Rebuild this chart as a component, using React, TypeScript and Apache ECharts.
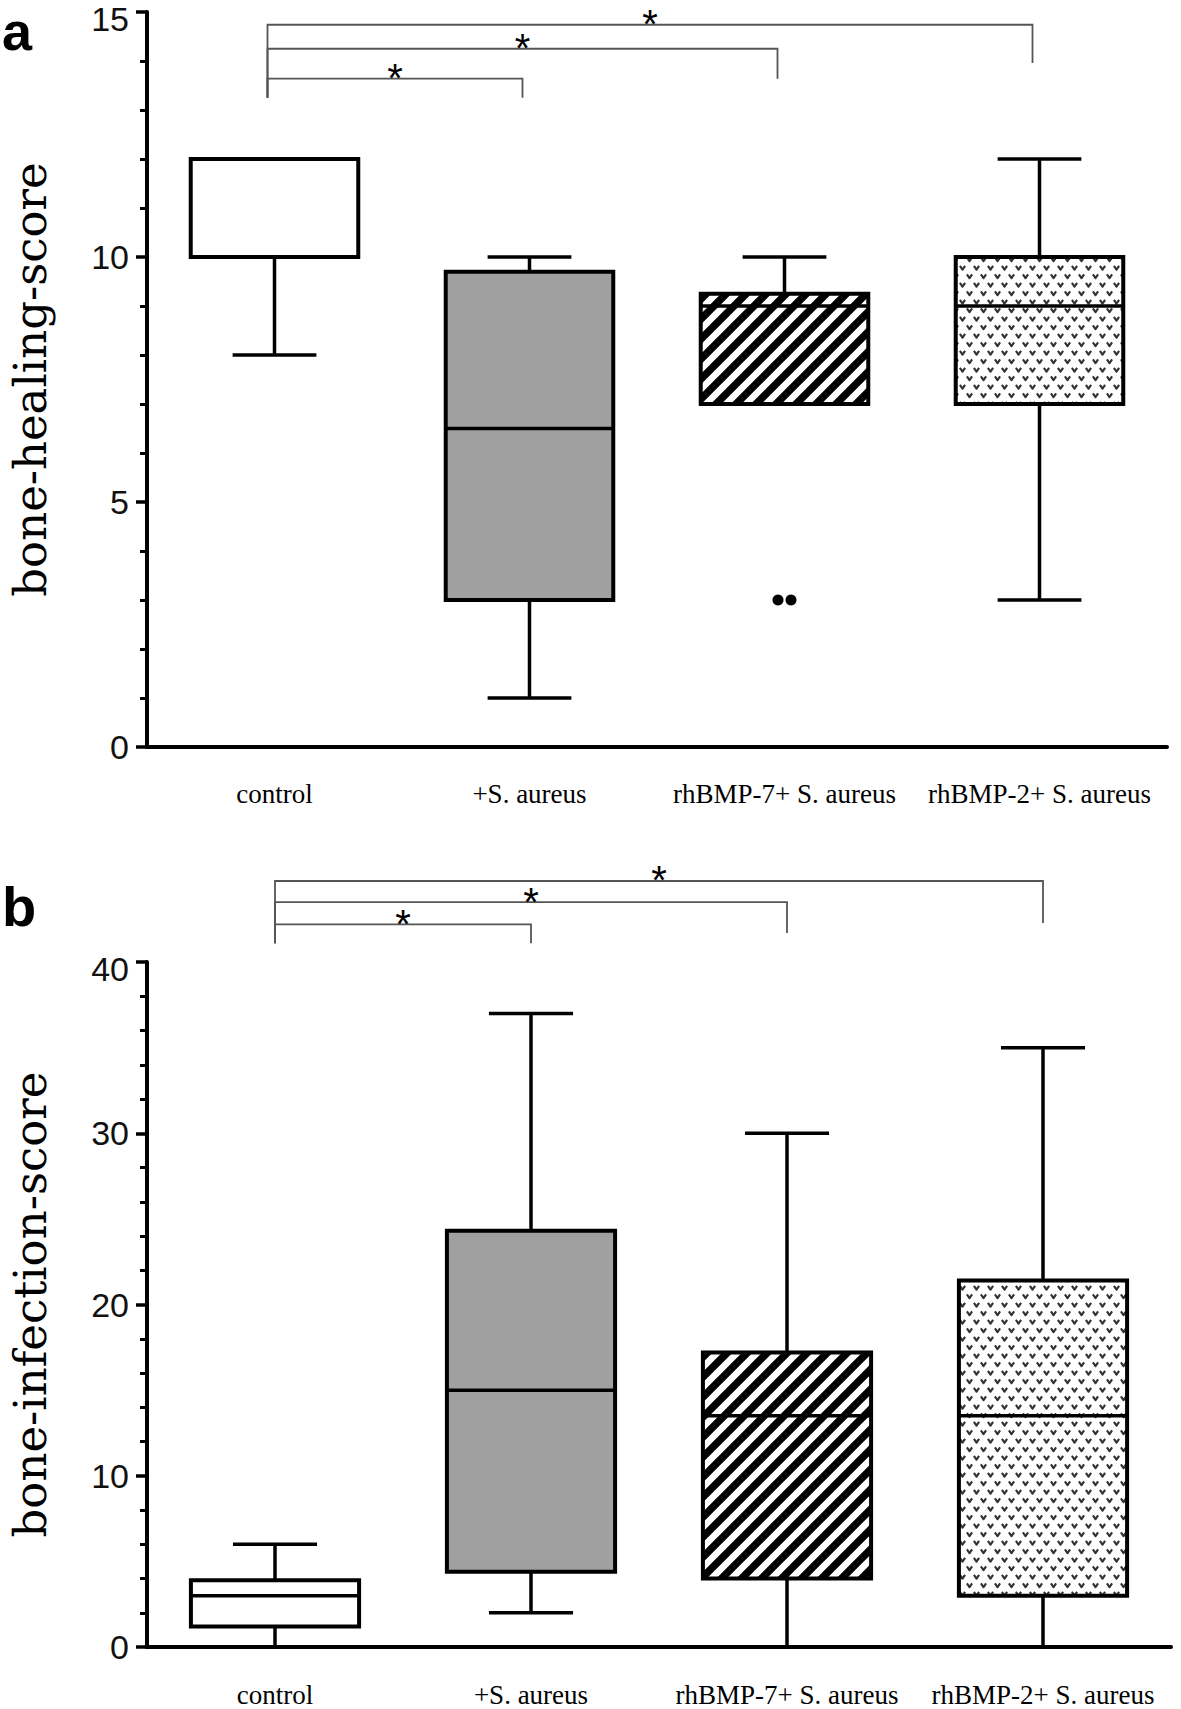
import React, { useEffect, useRef } from 'react';
import * as echarts from 'echarts';

// ---------- data ----------
const categories = ['control', '+S. aureus', 'rhBMP-7+ S. aureus', 'rhBMP-2+ S. aureus'];

// panel a: bone-healing-score (min, Q1, median, Q3, max)
const healingMin = [8, 1, 7, 3];
const healingQ1 = [10, 3, 7, 7];
const healingMedian = [10, 6.5, 9, 9];
const healingQ3 = [12, 9.7, 9.25, 10];
const healingMax = [12, 10, 10, 12];
const healingOutliers = [[2, 3], [2, 3]];

// panel b: bone-infection-score
const infectionMin = [0, 2, 0, 0];
const infectionQ1 = [1.2, 4.4, 4.0, 3.0];
const infectionMedian = [3, 15, 13.5, 13.5];
const infectionQ3 = [3.9, 24.3, 17.2, 21.4];
const infectionMax = [6, 37, 30, 35];

// significance brackets: [fromIndex, toIndex, barLevel, leftFootLevel, rightFootLevel]
const healingBrackets = [
  [0, 1, 13.64, 13.25, 13.25],
  [0, 2, 14.25, 13.25, 13.64],
  [0, 3, 14.74, 13.25, 13.96],
];
const infectionBrackets = [
  [0, 1, 42.2, 41.1, 41.1],
  [0, 2, 43.5, 41.1, 41.7],
  [0, 3, 44.73, 41.1, 42.28],
];
const bracketMark = '*';

const healingAxis = { min: 0, max: 15, interval: 5, name: 'bone-healing-score' };
const infectionAxis = { min: 0, max: 40, interval: 10, name: 'bone-infection-score' };

// ---------- helpers ----------
function makeHatch() {
  const s = 20;
  const c = document.createElement('canvas');
  c.width = s;
  c.height = s;
  const g = c.getContext('2d')!;
  g.fillStyle = '#fff';
  g.fillRect(0, 0, s, s);
  g.strokeStyle = '#000';
  g.lineWidth = 7.5;
  g.beginPath();
  g.moveTo(-s, s); g.lineTo(s, -s);
  g.moveTo(-s / 2, s * 1.5); g.lineTo(s * 1.5, -s / 2);
  g.moveTo(0, s * 2); g.lineTo(s * 2, 0);
  g.stroke();
  return { image: c, repeat: 'repeat', imageWidth: s, imageHeight: s };
}

function makeVee() {
  const w = 14, h = 17;
  const c = document.createElement('canvas');
  c.width = w;
  c.height = h;
  const g = c.getContext('2d')!;
  g.fillStyle = '#fff';
  g.fillRect(0, 0, w, h);
  g.strokeStyle = '#333';
  g.lineWidth = 2.2;
  g.lineJoin = 'round';
  const v = (cx: number, cy: number) => {
    g.beginPath();
    g.moveTo(cx - 2.6, cy - 1.8);
    g.lineTo(cx, cy + 1.8);
    g.lineTo(cx + 2.6, cy - 1.8);
    g.stroke();
  };
  v(3.5, 4.25);
  v(10.5, 12.75);
  return { image: c, repeat: 'repeat', imageWidth: w, imageHeight: h };
}

function boxRows(mn: number[], q1: number[], md: number[], q3: number[], mx: number[]) {
  return categories.map((_, i) => [i, mn[i], q1[i], md[i], q3[i], mx[i]]);
}

export default function App() {
  const ref = useRef<HTMLDivElement>(null);

  useEffect(() => {
    document.body.style.margin = '0';
    if (!ref.current) return;
    const chart = echarts.init(ref.current, undefined, { renderer: 'svg' });

    const fills: any[] = ['#ffffff', '#a0a0a0', makeHatch(), makeVee()];
    const BOX_RATIO = 0.657;

    const renderBox = (params: any, api: any) => {
      const idx = api.value(0);
      const x = api.coord([idx, 0])[0];
      const yMin = api.coord([idx, api.value(1)])[1];
      const yQ1 = api.coord([idx, api.value(2)])[1];
      const yMd = api.coord([idx, api.value(3)])[1];
      const yQ3 = api.coord([idx, api.value(4)])[1];
      const yMax = api.coord([idx, api.value(5)])[1];
      const bw = api.size([1, 0])[0] * BOX_RATIO;
      const cap = bw / 4;
      const ls = { stroke: '#000', lineWidth: 3.5 };
      return {
        type: 'group',
        children: [
          { type: 'line', shape: { x1: x, y1: yMax, x2: x, y2: yQ3 }, style: ls },
          { type: 'line', shape: { x1: x, y1: yQ1, x2: x, y2: yMin }, style: ls },
          { type: 'line', shape: { x1: x - cap, y1: yMax, x2: x + cap, y2: yMax }, style: ls },
          { type: 'line', shape: { x1: x - cap, y1: yMin, x2: x + cap, y2: yMin }, style: ls },
          {
            type: 'rect',
            shape: { x: x - bw / 2, y: yQ3, width: bw, height: yQ1 - yQ3 },
            style: { fill: fills[idx], stroke: '#000', lineWidth: 4 },
          },
          { type: 'line', shape: { x1: x - bw / 2, y1: yMd, x2: x + bw / 2, y2: yMd }, style: { stroke: '#000', lineWidth: 3.5 } },
        ],
      };
    };

    const makeBracketRenderer = (dx: number) => (params: any, api: any) => {
      const a = api.coord([api.value(0), api.value(2)]);
      const b = api.coord([api.value(1), api.value(2)]);
      const yl = api.coord([api.value(0), api.value(3)])[1];
      const yr = api.coord([api.value(1), api.value(4)])[1];
      const xa = a[0] + dx;
      const xb = b[0] + dx;
      return {
        type: 'group',
        children: [
          {
            type: 'polyline',
            shape: { points: [[xa, yl], [xa, a[1]], [xb, b[1]], [xb, yr]] },
            style: { stroke: '#555', lineWidth: 1.8, fill: 'none' },
          },
          {
            type: 'text',
            x: (xa + xb) / 2,
            y: a[1] - 0.5,
            style: {
              text: bracketMark,
              fontSize: 40,
              fontFamily: 'Liberation Sans',
              fill: '#000',
              align: 'center',
              verticalAlign: 'middle',
            },
          },
        ],
      };
    };

    const xAxisCommon = (gridIndex: number, margin: number) => ({
      type: 'category',
      gridIndex,
      data: categories,
      boundaryGap: true,
      axisLine: { lineStyle: { color: '#000', width: 4 } },
      axisTick: { alignWithLabel: true, length: 11, lineStyle: { color: '#000', width: 3.5 } },
      axisLabel: { interval: 0, color: '#000', fontFamily: 'Liberation Serif', fontSize: 27, margin },
      splitLine: { show: false },
    });

    const yAxisCommon = (gridIndex: number, ax: any) => ({
      type: 'value',
      gridIndex,
      min: ax.min,
      max: ax.max,
      interval: ax.interval,
      name: ax.name,
      nameLocation: 'middle',
      nameRotate: 90,
      nameGap: 94,
      nameTextStyle: { color: '#000', fontFamily: 'DejaVu Serif', fontSize: 45 },
      axisLine: { show: true, lineStyle: { color: '#000', width: 4 } },
      axisTick: { show: true, length: 11, lineStyle: { color: '#000', width: 3.5 } },
      minorTick: { show: true, splitNumber: 5, length: 7, lineStyle: { color: '#000', width: 3 } },
      axisLabel: {
        color: '#111',
        fontFamily: 'Liberation Sans',
        fontSize: 34,
        margin: 18,
        formatter: (v: number) => (v === ax.max ? `{top|${v}}` : `${v}`),
        rich: {
          top: { color: '#111', fontFamily: 'Liberation Sans', fontSize: 34, padding: [14, 0, 0, 0] },
        },
      },
      splitLine: { show: false },
      minorSplitLine: { show: false },
    });

    chart.setOption({
      animation: false,
      backgroundColor: '#fff',
      grid: [
        { left: 145, top: 12, width: 1022, height: 735 },
        { left: 147, top: 962, width: 1024, height: 685 },
      ],
      xAxis: [xAxisCommon(0, 33), xAxisCommon(1, 34)],
      yAxis: [yAxisCommon(0, healingAxis), yAxisCommon(1, infectionAxis)],
      graphic: [
        { type: 'text', x: 2, y: 31, style: { text: 'a', font: 'bold 54px "Liberation Sans"', fill: '#000', verticalAlign: 'middle' } },
        { type: 'text', x: 2, y: 906, style: { text: 'b', font: 'bold 56px "Liberation Sans"', fill: '#000', verticalAlign: 'middle' } },
      ],
      series: [
        {
          type: 'custom',
          xAxisIndex: 0,
          yAxisIndex: 0,
          renderItem: renderBox,
          encode: { x: 0, y: [1, 2, 3, 4, 5] },
          data: boxRows(healingMin, healingQ1, healingMedian, healingQ3, healingMax),
          z: 2,
        },
        {
          type: 'scatter',
          xAxisIndex: 0,
          yAxisIndex: 0,
          symbol: 'circle',
          symbolSize: 11,
          itemStyle: { color: '#000', opacity: 1 },
          data: healingOutliers.map((d, i) => ({ value: d, symbolOffset: [i === 0 ? -6.5 : 6.5, 0] })),
          z: 3,
        },
        {
          type: 'custom',
          xAxisIndex: 0,
          yAxisIndex: 0,
          renderItem: makeBracketRenderer(-7),
          clip: false,
          encode: { x: 0, y: 2 },
          data: healingBrackets,
          z: 4,
        },
        {
          type: 'custom',
          xAxisIndex: 1,
          yAxisIndex: 1,
          renderItem: renderBox,
          encode: { x: 0, y: [1, 2, 3, 4, 5] },
          data: boxRows(infectionMin, infectionQ1, infectionMedian, infectionQ3, infectionMax),
          z: 2,
        },
        {
          type: 'custom',
          xAxisIndex: 1,
          yAxisIndex: 1,
          renderItem: makeBracketRenderer(0),
          clip: false,
          encode: { x: 0, y: 2 },
          data: infectionBrackets,
          z: 4,
        },
      ],
    });

    return () => chart.dispose();
  }, []);

  return <div ref={ref} style={{ width: 1181, height: 1709 }} />;
}
